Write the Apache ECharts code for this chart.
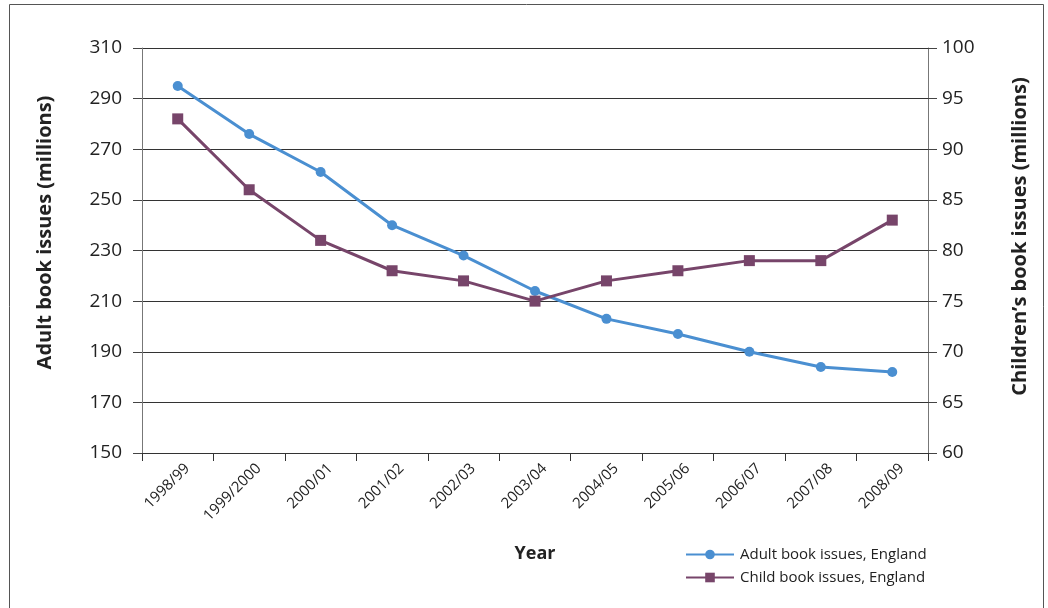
<!DOCTYPE html>
<html><head><meta charset="utf-8">
<script src="https://cdn.jsdelivr.net/npm/echarts@6/dist/echarts.min.js"></script>
<style>html,body{margin:0;padding:0;background:#fff}#c{width:1048px;height:608px}</style>
</head><body><div id="c"></div>
<script>
const categories = ['1998/99','1999/2000','2000/01','2001/02','2002/03','2003/04','2004/05','2005/06','2006/07','2007/08','2008/09'];
const adultIssues = [295, 276, 261, 240, 228, 214, 203, 197, 190, 184, 182];
const childIssues = [93, 86, 81, 78, 77, 75, 77, 78, 79, 79, 83];
const leftTicks = {min:150, max:310, interval:20};
const rightTicks = {min:60, max:100, interval:5};

const FONT = '"Open Sans", "Noto Sans", sans-serif';
const chart = echarts.init(document.getElementById('c'), null, {renderer:'canvas'});
chart.setOption({
  animation:false,
  backgroundColor:'#fff',
  graphic:[{type:'rect', shape:{x:9.5,y:4.5,width:1034,height:610}, style:{fill:'none', stroke:'#555', lineWidth:1}}],
  grid:{left:142, right:120, top:48, bottom:155},
  legend:{
    orient:'vertical', left:680, top:542, itemWidth:48, itemHeight:12, itemGap:8,
    textStyle:{fontFamily:FONT, fontSize:15, color:'#222', padding:[0,0,0,1]},
    data:['Adult book issues, England','Child book issues, England']
  },
  xAxis:{
    type:'category', data:categories, boundaryGap:true,
    name:'Year', nameLocation:'middle', nameGap:92,
    nameTextStyle:{fontFamily:FONT, fontSize:18, fontWeight:'bold', color:'#222'},
    axisLine:{lineStyle:{color:'#333', width:1}},
    axisTick:{show:true, length:8, lineStyle:{color:'#333'}},
    axisLabel:{rotate:45, fontFamily:FONT, fontSize:15, color:'#222', margin:12, verticalAlign:'top', padding:[0,-6,0,0]}
  },
  yAxis:[{
    type:'value', min:leftTicks.min, max:leftTicks.max, interval:leftTicks.interval,
    name:'Adult book issues (millions)', nameLocation:'middle', nameGap:87, nameRotate:90,
    nameTextStyle:{fontFamily:FONT, fontSize:20, fontWeight:'bold', color:'#222', padding:[0,0,0,36]},
    axisLine:{show:true, lineStyle:{color:'#777'}},
    axisTick:{show:true, length:9, lineStyle:{color:'#444'}},
    axisLabel:{fontFamily:FONT, fontSize:19, color:'#222', margin:20},
    splitLine:{show:true, lineStyle:{color:'#333', width:1}}
  },{
    type:'value', min:rightTicks.min, max:rightTicks.max, interval:rightTicks.interval, position:'right',
    name:'Children\u2019s book issues (millions)', nameLocation:'middle', nameGap:82, nameRotate:90,
    nameTextStyle:{fontFamily:FONT, fontSize:20, fontWeight:'bold', color:'#222', padding:[0,0,0,28]},
    axisLine:{show:true, lineStyle:{color:'#777'}},
    axisTick:{show:true, length:9, lineStyle:{color:'#444'}},
    axisLabel:{fontFamily:FONT, fontSize:19, color:'#222', margin:14},
    splitLine:{show:false}
  }],
  series:[{
    name:'Adult book issues, England', type:'line', data:adultIssues, yAxisIndex:0,
    symbol:'circle', symbolSize:10, color:'#4A8FD1',
    lineStyle:{width:3, color:'#4A8FD1'}, itemStyle:{color:'#4A8FD1'}
  },{
    name:'Child book issues, England', type:'line', data:childIssues, yAxisIndex:1,
    symbol:'rect', symbolSize:11, color:'#77456A',
    lineStyle:{width:3, color:'#77456A'}, itemStyle:{color:'#77456A'}
  }]
});
</script></body></html>
